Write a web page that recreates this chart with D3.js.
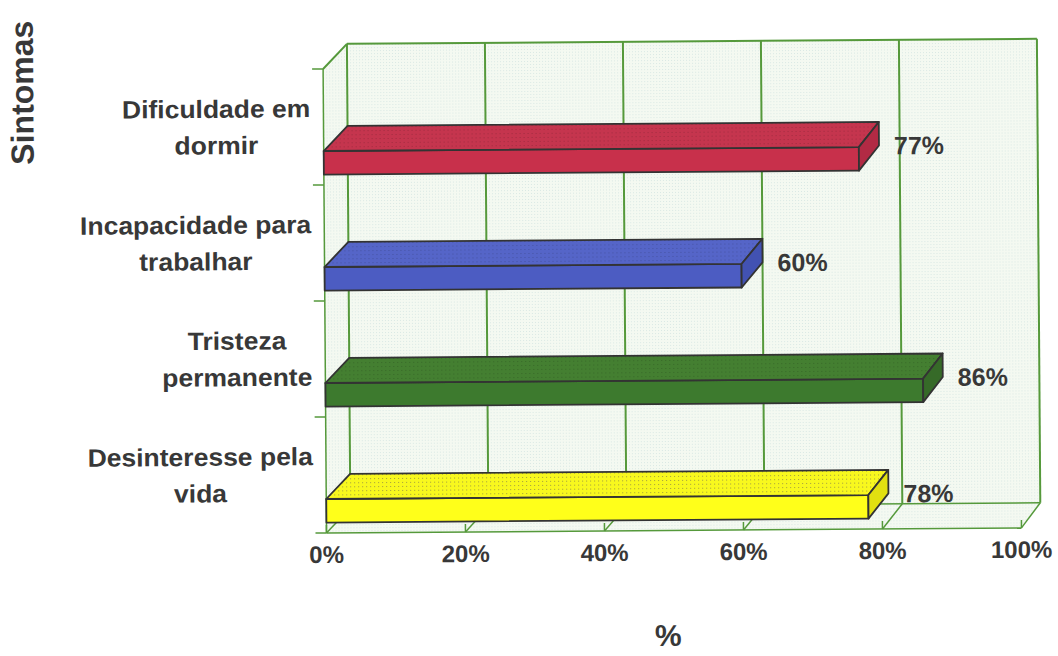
<!DOCTYPE html>
<html>
<head>
<meta charset="utf-8">
<script src="https://cdn.jsdelivr.net/npm/d3@7"></script>
<style>
  body { margin: 0; background: #ffffff; }
  text { font-family: "Liberation Sans", Arial, sans-serif; font-weight: bold; fill: #383838; }
</style>
</head>
<body>
<svg id="chart" width="1058" height="656"></svg>
<script>
// ---- data ----
const categories = ["Dificuldade em dormir", "Incapacidade para trabalhar", "Tristeza permanente", "Desinteresse pela vida"];
const categoryLines = [["Dificuldade em", "dormir"], ["Incapacidade para", "trabalhar"], ["Tristeza", "permanente"], ["Desinteresse pela", "vida"]];
const values = [77, 60, 86, 78];
const valueLabels = ["77%", "60%", "86%", "78%"];
const tickValues = [0, 20, 40, 60, 80, 100];
const tickLabels = ["0%", "20%", "40%", "60%", "80%", "100%"];
const xTitle = "%";
const yTitle = "Sintomas";

// ---- styling ----
const barFront = ["#c8304b", "#4c5cc2", "#3d7a2e", "#ffff1a"];
const barTop   = ["#c5354e", "#5565c8", "#447f31", "#f8f81e"];
const barEnd   = ["#b22a44", "#4252b2", "#366a28", "#e2e010"];
const gridColor = "#55993b";
const outline = "#333333";

const svg = d3.select("#chart");
const defs = svg.append("defs");

// light dotted wall texture
const wall = defs.append("pattern").attr("id", "wallTex")
  .attr("width", 3).attr("height", 3).attr("patternUnits", "userSpaceOnUse");
wall.append("rect").attr("width", 3).attr("height", 3).attr("fill", "#f4f9f1");
wall.append("rect").attr("x", 1).attr("y", 1).attr("width", 1).attr("height", 1).attr("fill", "#d9e8e4");

// dotted texture for the bar tops
barTop.forEach((c, i) => {
  const p = defs.append("pattern").attr("id", "topTex" + i)
    .attr("width", 4).attr("height", 4).attr("patternUnits", "userSpaceOnUse");
  p.append("rect").attr("width", 4).attr("height", 4).attr("fill", c);
  p.append("rect").attr("x", 1).attr("y", 1).attr("width", 1).attr("height", 1)
    .attr("fill", i === 3 ? "#a09a40" : d3.color(c).darker(0.6));
});

// whole drawing sits with a slight tilt
const g = svg.append("g").attr("transform", "rotate(-0.42, 529, 328)");

// ---- scales ----
const plotTop = 67.5, plotBottom = 531.5, depthDy = 25;
const xFront = d3.scaleLinear().domain([0, 100]).range([325, 1020]);
const xBack  = d3.scaleLinear().domain([0, 100]).range([349, 1039]);
const y = d3.scaleBand().domain(categories).range([plotTop, plotBottom]);
const bw = y.bandwidth();

// projects (value, front-plane y, depth 0..1) to screen
function P(v, yy, d) {
  return [xFront(v) + (xBack(v) - xFront(v)) * d, yy - depthDy * d];
}
const poly = pts => "M" + pts.map(p => p.join(",")).join("L") + "Z";
const seg = (a, b) => "M" + a.join(",") + "L" + b.join(",");

// ---- walls ----
const wallG = g.append("g");
wallG.append("path").attr("d", poly([P(0, plotTop, 1), P(100, plotTop, 1), P(100, plotBottom, 1), P(0, plotBottom, 1)]))
  .attr("fill", "url(#wallTex)");
wallG.append("path").attr("d", poly([P(0, plotTop, 0), P(0, plotTop, 1), P(0, plotBottom, 1), P(0, plotBottom, 0)]))
  .attr("fill", "url(#wallTex)");
wallG.append("path").attr("d", poly([P(0, plotBottom, 0), P(100, plotBottom, 0), P(100, plotBottom, 1), P(0, plotBottom, 1)]))
  .attr("fill", "url(#wallTex)");

const gridG = g.append("g").attr("stroke", gridColor).attr("fill", "none");
// vertical gridlines on back wall
gridG.selectAll(".vgrid").data(tickValues).join("path")
  .attr("d", t => seg(P(t, plotTop, 1), P(t, plotBottom, 1))).attr("stroke-width", 2);
// gridlines across the floor
gridG.selectAll(".fgrid").data(tickValues).join("path")
  .attr("d", t => seg(P(t, plotBottom, 1), P(t, plotBottom, 0))).attr("stroke-width", 1.5);
// tick marks at the front floor edge
gridG.selectAll(".ftick").data(tickValues).join("path")
  .attr("d", t => seg([xFront(t), plotBottom], [xFront(t), plotBottom - 8])).attr("stroke-width", 1.5);
// outer edges
gridG.append("path").attr("d", seg(P(0, plotTop, 1), P(100, plotTop, 1))).attr("stroke-width", 2);
gridG.append("path").attr("d", seg(P(0, plotBottom, 1), P(100, plotBottom, 1))).attr("stroke-width", 1.5);
gridG.append("path").attr("d", seg(P(0, plotBottom, 0), P(100, plotBottom, 0))).attr("stroke-width", 1.5);
gridG.append("path").attr("d", seg(P(0, plotTop, 0), P(0, plotBottom, 0))).attr("stroke-width", 1.5);
gridG.append("path").attr("d", seg(P(0, plotTop, 0), P(0, plotTop, 1))).attr("stroke-width", 2);
// category tick marks on the side wall
const bandEdges = categories.map(c => y(c)).concat([plotBottom]);
gridG.selectAll(".ytick").data(bandEdges).join("path")
  .attr("d", e => seg([xFront(0) - 11, e], [xFront(0), e])).attr("stroke-width", 1.5);

// ---- bars ----
const barG = g.append("g").attr("stroke", outline).attr("stroke-width", 1.8).attr("stroke-linejoin", "round");
categories.forEach((c, i) => {
  const v = values[i];
  const y0 = y(c) + bw * 0.707;
  const y1 = y(c) + bw * 0.91;
  barG.append("path").attr("d", poly([P(0, y0, 0), P(v, y0, 0), P(v, y1, 0), P(0, y1, 0)]))
    .attr("fill", barFront[i]);
  barG.append("path").attr("d", poly([P(0, y0, 0), P(v, y0, 0), P(v, y0, 1), P(0, y0, 1)]))
    .attr("fill", "url(#topTex" + i + ")");
  barG.append("path").attr("d", poly([P(v, y0, 0), P(v, y0, 1), P(v, y1, 1), P(v, y1, 0)]))
    .attr("fill", barEnd[i]);
});

// ---- value labels ----
g.selectAll(".vlabel").data(categories).join("text")
  .attr("x", (c, i) => xBack(values[i]) + 15)
  .attr("y", c => y(c) + 89.5)
  .attr("font-size", 25)
  .text((c, i) => valueLabels[i]);

// ---- category labels ----
const labelRight = 312, sx = 1.06;
categories.forEach((c, i) => {
  const grp = g.append("g");
  const texts = categoryLines[i].map(ln =>
    grp.append("text").attr("font-size", 25).attr("text-anchor", "middle").text(ln));
  const maxW = d3.max(texts, t => t.node().getComputedTextLength());
  const cx = labelRight - maxW * sx / 2;
  texts.forEach((t, k) => {
    t.attr("transform", `translate(${cx},${y(c) + 48 + k * 36.5}) scale(${sx},1)`);
  });
});

// ---- axis tick labels ----
g.selectAll(".xlabel").data(tickValues).join("text")
  .attr("x", t => xFront(t))
  .attr("y", plotBottom + 30)
  .attr("text-anchor", "middle")
  .attr("font-size", 24)
  .text((t, i) => tickLabels[i]);

// ---- axis titles ----
g.append("text").attr("x", 666).attr("y", 647).attr("text-anchor", "middle")
  .attr("font-size", 30).text(xTitle);
g.append("text").attr("transform", "translate(35,89) rotate(-90)")
  .attr("text-anchor", "middle").attr("font-size", 32).attr("fill", "#444").text(yTitle);
</script>
</body>
</html>
